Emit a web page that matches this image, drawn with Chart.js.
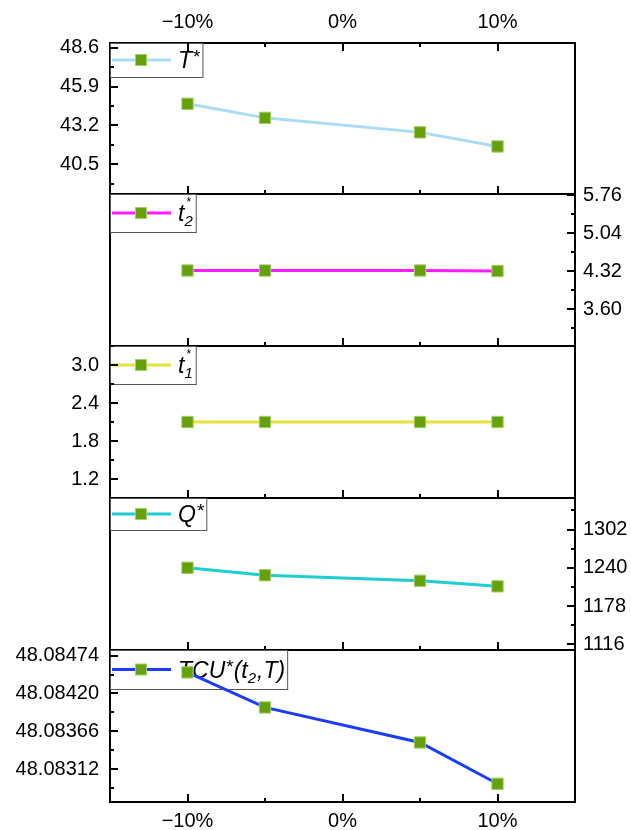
<!DOCTYPE html>
<html>
<head>
<meta charset="utf-8">
<script src="https://cdn.jsdelivr.net/npm/chart.js@4.4.1/dist/chart.umd.min.js"></script>
<style>
    html, body { margin: 0; padding: 0; background: #fff; }
    #wrap { position: relative; width: 631px; height: 830px; }
    canvas { position: absolute; left: 0; }
</style>
</head>
<body>
<div id="wrap">
    <canvas id="tPanel" width="631" height="206" style="top:0px"></canvas>
    <canvas id="t2Panel" width="631" height="176" style="top:182px"></canvas>
    <canvas id="t1Panel" width="631" height="176" style="top:334px"></canvas>
    <canvas id="qPanel" width="631" height="176" style="top:486px"></canvas>
    <canvas id="tcuPanel" width="631" height="192" style="top:638px"></canvas>
</div>
<script>
// parameter change (%) on the x axis
const changes = [-10, -5, 5, 10];
const xMajor = [-10, 0, 10];
const xMajorLabels = ['−10%', '0%', '10%'];
const xMinor = [-5, 5];

// optimal values for each change
const tStar = [44.70, 43.72, 42.71, 41.73];
const t2Star = [4.33, 4.33, 4.33, 4.32];
const t1Star = [2.10, 2.10, 2.10, 2.10];
const qStar = [1240, 1228, 1219, 1210];
const tcuStar = [48.08450, 48.08400, 48.08350, 48.08291];

// labelled y ticks
const tTicks = [40.5, 43.2, 45.9, 48.6];
const t2Ticks = [3.60, 4.32, 5.04, 5.76];
const t1Ticks = [1.2, 1.8, 2.4, 3.0];
const qTicks = [1116, 1178, 1240, 1302];
const tcuTicks = [48.08312, 48.08366, 48.08420, 48.08474];

const FONT = 'Liberation Sans';
const markerFill = '#66a10d';
const markerEdge = '#a0cf62';

// minor ticks sit halfway between the labelled ones
function minorsOf(major, min, max) {
    const step = major[1] - major[0];
    const out = [];
    for (let k = -1; k <= major.length; k++) {
        const v = major[0] + (k + 0.5) * step;
        if (v >= min - 1e-9 && v <= max + 1e-9) out.push(v);
    }
    return out;
}

// ticks pointing into the plot, long for labelled values, short for the rest
const innerTicks = {
    id: 'innerTicks',
    afterDraw(chart, args, opts) {
        const { ctx, chartArea: a } = chart;
        const xs = chart.scales.x;
        const ys = chart.scales[opts.side === 'left' ? 'y' : 'yRight'];
        ctx.save();
        ctx.strokeStyle = '#000';
        ctx.lineWidth = 2;
        const mark = (x1, y1, x2, y2) => {
            ctx.beginPath();
            ctx.moveTo(x1, y1);
            ctx.lineTo(x2, y2);
            ctx.stroke();
        };
        const xTick = (v, len) => {
            const px = Math.round(xs.getPixelForValue(v));
            mark(px, a.bottom, px, a.bottom - len);
            if (opts.top) mark(px, a.top, px, a.top + len);
        };
        xMajor.forEach(v => xTick(v, 8));
        xMinor.forEach(v => xTick(v, 4));
        const yTick = (v, len) => {
            const py = Math.round(ys.getPixelForValue(v));
            if (opts.side === 'left') mark(a.left, py, a.left + len, py);
            else mark(a.right, py, a.right - len, py);
        };
        opts.major.forEach(v => yTick(v, 8));
        minorsOf(opts.major, ys.min, ys.max).forEach(v => yTick(v, 4));
        ctx.restore();
    }
};

// framed legend in the top-left corner: line, square marker, styled label
const boxLegend = {
    id: 'boxLegend',
    beforeDatasetsDraw(chart, args, opts) {
        const { ctx, chartArea: a } = chart;
        const mainFont = 'italic 23px "' + FONT + '"';
        const supFont = '19px "' + FONT + '"';
        const subFont = 'italic 15px "' + FONT + '"';
        const smallSup = '12px "' + FONT + '"';
        ctx.save();
        // measure label
        let textW = 0;
        opts.parts.forEach(p => {
            if (p.t) { ctx.font = mainFont; textW += ctx.measureText(p.t).width; }
            else {
                let w = 0;
                if (p.sub) { ctx.font = subFont; w = Math.max(w, ctx.measureText(p.sub).width); }
                if (p.sup) { ctx.font = p.sub ? smallSup : supFont; w = Math.max(w, ctx.measureText(p.sup).width); }
                textW += w + 1;
            }
        });
        const h = opts.height;
        const w = 68 + textW + 2;
        const x0 = a.left, y0 = a.top;
        ctx.fillStyle = '#fff';
        ctx.fillRect(x0, y0, w, h);
        ctx.strokeStyle = '#555';
        ctx.lineWidth = 1;
        ctx.strokeRect(x0 + 0.5, y0 + 0.5, w, h);
        const cy = y0 + h / 2;
        ctx.strokeStyle = opts.color;
        ctx.lineWidth = 3;
        ctx.beginPath();
        ctx.moveTo(x0 + 2, cy);
        ctx.lineTo(x0 + 61, cy);
        ctx.stroke();
        ctx.fillStyle = markerEdge;
        ctx.fillRect(x0 + 25, cy - 6, 12, 12);
        ctx.fillStyle = markerFill;
        ctx.fillRect(x0 + 26, cy - 5, 10, 10);
        // label
        let tx = x0 + 68;
        const base = cy + 8;
        ctx.fillStyle = '#000';
        ctx.textBaseline = 'alphabetic';
        ctx.textAlign = 'left';
        opts.parts.forEach(p => {
            if (p.t) {
                ctx.font = mainFont;
                ctx.fillText(p.t, tx, base);
                tx += ctx.measureText(p.t).width;
            } else {
                let pw = 0;
                if (p.sub) {
                    ctx.font = subFont;
                    ctx.fillText(p.sub, tx, base + 5);
                    pw = Math.max(pw, ctx.measureText(p.sub).width);
                }
                if (p.sup) {
                    ctx.font = p.sub ? smallSup : supFont;
                    ctx.fillText(p.sup, tx + (p.sub ? 2 : 1), base - (p.sub ? 15 : 5));
                    pw = Math.max(pw, ctx.measureText(p.sup).width);
                }
                tx += pw + 1;
            }
        });
        ctx.restore();
    }
};

function axis(position, min, max, show, ticksArr, fmt, size, pad) {
    const horizontal = position === 'top' || position === 'bottom';
    return {
        type: 'linear',
        position: position,
        min: min,
        max: max,
        grid: { display: false, drawTicks: false },
        border: { display: true, color: '#000', width: 2 },
        ticks: {
            display: show,
            padding: pad,
            color: '#000',
            autoSkip: false,
            maxRotation: 0,
            font: { family: FONT, size: 20 },
            callback: fmt
        },
        afterBuildTicks: (s) => { s.ticks = ticksArr.map(v => ({ value: v })); },
        afterFit: (s) => {
            if (horizontal) s.height = size;
            else s.width = size;
            // labels may overhang the plot edges, the canvases overlap
            s.paddingTop = 0;
            s.paddingBottom = 0;
            s.paddingLeft = 0;
            s.paddingRight = 0;
        }
    };
}

const xFmt = (v) => xMajorLabels[xMajor.indexOf(v)];

function renderPanel(cfg) {
    const ctx = document.getElementById(cfg.id);
    if (!ctx) return;
    const fmt = (v) => Number(v).toFixed(cfg.decimals);
    const left = cfg.side === 'left';
    return new Chart(ctx, {
        type: 'line',
        data: {
            datasets: [{
                data: changes.map((c, i) => ({ x: c, y: cfg.values[i] })),
                xAxisID: 'x',
                yAxisID: left ? 'y' : 'yRight',
                borderColor: cfg.color,
                borderWidth: 3,
                tension: 0,
                pointStyle: 'rect',
                pointRadius: 8,
                pointBackgroundColor: markerFill,
                pointBorderColor: markerEdge,
                pointBorderWidth: 1,
                clip: false
            }]
        },
        options: {
            responsive: false,
            animation: false,
            layout: { padding: 0 },
            plugins: {
                legend: { display: false },
                tooltip: { enabled: false },
                boxLegend: { parts: cfg.parts, color: cfg.color, height: cfg.legendH },
                innerTicks: { side: cfg.side, major: cfg.ticks, top: !!cfg.topLabels }
            },
            scales: {
                x: axis('bottom', -15, 15, !!cfg.bottomLabels, xMajor, xFmt, cfg.bottomH, 7),
                xTop: axis('top', -15, 15, !!cfg.topLabels, xMajor, xFmt, cfg.topH, 9),
                y: axis('left', cfg.min, cfg.max, left, cfg.ticks, fmt, 110, 11),
                yRight: axis('right', cfg.min, cfg.max, !left, cfg.ticks, fmt, 56, 8)
            }
        },
        plugins: [boxLegend, innerTicks]
    });
}

renderPanel({
    id: 'tPanel', values: tStar, ticks: tTicks, side: 'left', decimals: 1,
    min: 38.42, max: 48.93, color: '#abdcf5', topLabels: true, topH: 43, bottomH: 12,
    legendH: 34, parts: [{ t: 'T' }, { sup: '*' }]
});
renderPanel({
    id: 't2Panel', values: t2Star, ticks: t2Ticks, side: 'right', decimals: 2,
    min: 2.90, max: 5.78, color: '#ff1aff', topH: 12, bottomH: 12,
    legendH: 38, parts: [{ t: 't' }, { sub: '2', sup: '*' }]
});
renderPanel({
    id: 't1Panel', values: t1Star, ticks: t1Ticks, side: 'left', decimals: 1,
    min: 0.90, max: 3.30, color: '#e8e23a', topH: 12, bottomH: 12,
    legendH: 38, parts: [{ t: 't' }, { sub: '1', sup: '*' }]
});
renderPanel({
    id: 'qPanel', values: qStar, ticks: qTicks, side: 'right', decimals: 0,
    min: 1107, max: 1353, color: '#1fcdd2', topH: 12, bottomH: 12,
    legendH: 32, parts: [{ t: 'Q' }, { sup: '*' }]
});
renderPanel({
    id: 'tcuPanel', values: tcuStar, ticks: tcuTicks, side: 'left', decimals: 5,
    min: 48.08265, max: 48.08482, color: '#1a3cff', bottomLabels: true, topH: 12, bottomH: 28,
    legendH: 39,
    parts: [{ t: 'TCU' }, { sup: '*' }, { t: '(t' }, { sub: '2' }, { t: ',T)' }]
});
</script>
</body>
</html>
